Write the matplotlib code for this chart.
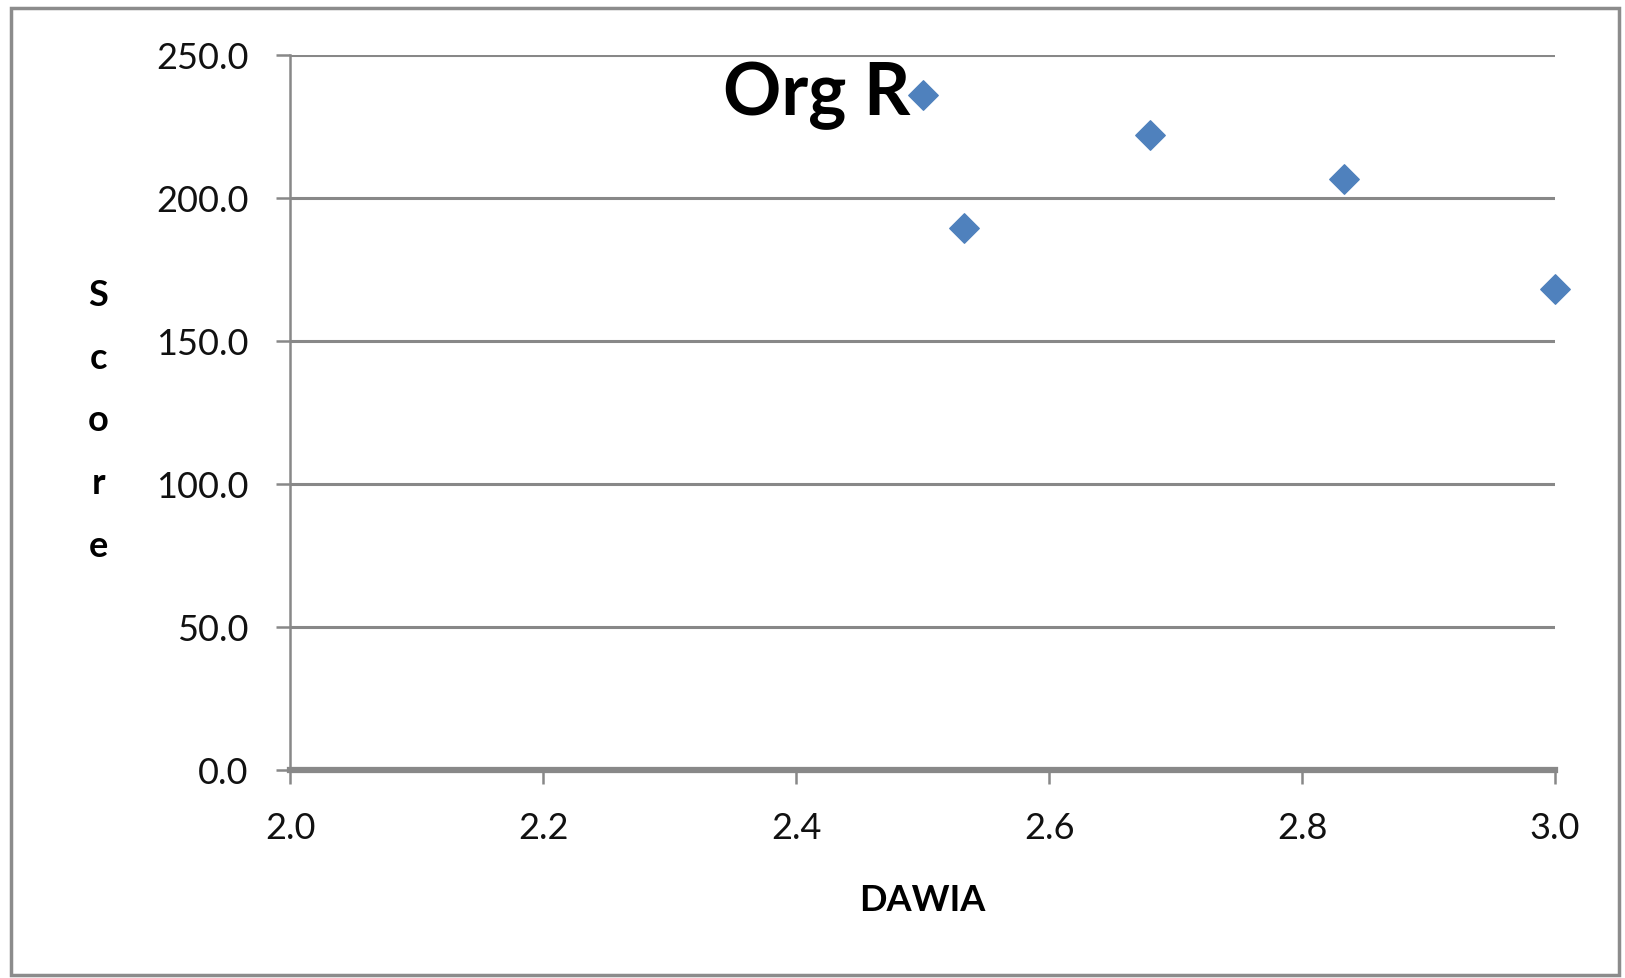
import matplotlib.pyplot as plt
from matplotlib.patches import Rectangle

# DAWIA vs score, Org R
dawia = [2.5, 2.533, 2.68, 2.833, 3.0]
score = [236.0, 189.5, 222.0, 206.5, 168.0]
x_ticks = [2.0, 2.2, 2.4, 2.6, 2.8, 3.0]
y_ticks = [0, 50, 100, 150, 200, 250]

plt.rcParams['font.family'] = ['Lato', 'DejaVu Sans']

fig = plt.figure(figsize=(16.25, 9.79), dpi=100)
ax = fig.add_axes([0.1786, 0.2127, 0.7784, 0.7302])

grid_col = '#888888'
ax.scatter(dawia, score, marker='D', s=15 ** 2, color='#4F81BD', zorder=3, clip_on=False)

ax.set_xlim(2.0, 3.0)
ax.set_ylim(0, 250)
ax.set_xticks(x_ticks)
ax.set_xticklabels([f'{v:.1f}' for v in x_ticks])
ax.set_yticks(y_ticks)
ax.set_yticklabels([f'{v:.1f}' for v in y_ticks])
ax.yaxis.grid(True, color=grid_col, linewidth=2.2)
ax.set_axisbelow(True)

for side in ['top', 'right']:
    ax.spines[side].set_visible(False)
ax.spines['left'].set_color(grid_col)
ax.spines['left'].set_linewidth(1.8)
ax.spines['bottom'].set_color(grid_col)
ax.spines['bottom'].set_linewidth(4.5)
ax.tick_params(axis='both', colors=grid_col, labelcolor='#111111', labelsize=26,
               length=10, width=1.8, direction='out')
ax.tick_params(axis='x', pad=20)
ax.tick_params(axis='y', pad=20)

ax.set_xlabel('DAWIA', fontsize=26, fontweight='bold', labelpad=28)
fig.text(0.0606, 0.57, 'S\nc\no\nr\ne', fontsize=26, fontweight='bold',
         ha='center', va='center', linespacing=2.1)

ax.text(2.49, 236, 'Org R', fontsize=52, fontweight='bold', ha='right', va='center')

# outer chart border
fig.patches.append(Rectangle((0.0065, 0.003), 0.99, 0.988, transform=fig.transFigure,
                             fill=False, edgecolor='#8c8c8c', linewidth=2.5))

fig.savefig('out.png', dpi=100)
